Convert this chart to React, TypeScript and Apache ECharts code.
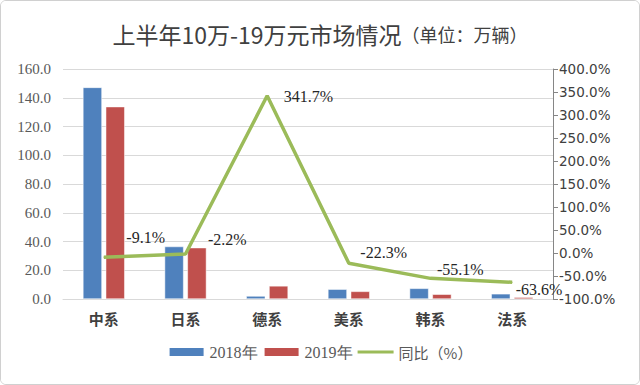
import React, { useEffect, useRef } from "react";
import * as echarts from "echarts";

const categories = ["中系", "日系", "德系", "美系", "韩系", "法系"];
const sales2018 = [147.2, 36.5, 2.06, 6.8, 7.4, 3.6];
const sales2019 = [133.8, 35.7, 9.1, 5.3, 3.3, 1.3];
const yoy = [-9.1, -2.2, 341.7, -22.3, -55.1, -63.6];
const labelOffsets: number[][] = [[22, -20], [22, -15], [16, 1], [11, -11], [6, -9], [3, 7]];

export default function App() {
  const ref = useRef<HTMLDivElement>(null);
  useEffect(() => {
    const chart = echarts.init(ref.current!, null, { renderer: "svg" });
    const serif = "Liberation Serif";
    chart.setOption({
      animation: false,
      backgroundColor: "#ffffff",
      title: {
        text: "{a|上半年10万-19万元市场情况}{b|（单位：万辆）}",
        left: "center",
        top: 16,
        textStyle: {
          fontWeight: "normal",
          rich: {
            a: { fontSize: 23, fontWeight: "normal", color: "#404040", fontFamily: "Noto Sans CJK SC" },
            b: { fontSize: 18, fontWeight: "normal", color: "#404040", fontFamily: "Noto Sans CJK SC" },
          },
        },
      },
      legend: {
        bottom: 19,
        left: "center",
        itemWidth: 36,
        itemHeight: 10,
        itemGap: 5,
        textStyle: { fontFamily: serif, fontSize: 16, color: "#595959" },
        data: [
          { name: "2018年", icon: "rect" },
          { name: "2019年", icon: "rect" },
          { name: "同比（%）", icon: "path://M0,0 L36,0 L36,3 L0,3 Z", itemStyle: { color: "#9BBB59" }, textStyle: { fontFamily: "Noto Sans CJK SC", fontSize: 15 } },
        ],
      },
      grid: { left: 62, right: 86, top: 68, bottom: 85 },
      xAxis: {
        type: "category",
        data: categories,
        axisLine: { show: true, lineStyle: { color: "#d9d9d9" } },
        axisTick: { show: false },
        axisLabel: {
          fontSize: 15,
          fontWeight: "bold",
          color: "#404040",
          fontFamily: "Noto Sans CJK SC",
          margin: 12,
        },
      },
      yAxis: [
        {
          type: "value",
          min: 0,
          max: 160,
          interval: 20,
          axisLine: { show: false },
          axisTick: { show: false },
          splitLine: { lineStyle: { color: "#d9d9d9" } },
          axisLabel: {
            formatter: (v: number) => v.toFixed(1),
            fontFamily: serif,
            fontSize: 15,
            color: "#595959",
            margin: 12,
          },
        },
        {
          type: "value",
          min: -100,
          max: 400,
          interval: 50,
          position: "right",
          axisLine: { show: true, lineStyle: { color: "#868686" } },
          axisTick: { show: true, length: 5, lineStyle: { color: "#868686" } },
          splitLine: { show: false },
          axisLabel: {
            formatter: (v: number) => v.toFixed(1) + "%",
            fontFamily: "DejaVu Sans",
            fontSize: 13.5,
            color: "#404040",
            margin: 6,
          },
        },
      ],
      series: [
        {
          name: "2018年",
          type: "bar",
          data: sales2018,
          barWidth: 19,
          barGap: "20%",
          itemStyle: { color: "#4F81BD", borderColor: "#ffffff", borderWidth: 0.5 },
        },
        {
          name: "2019年",
          type: "bar",
          data: sales2019,
          barWidth: 19,
          barGap: "20%",
          itemStyle: { color: "#C0504D", borderColor: "#ffffff", borderWidth: 0.5 },
        },
        {
          name: "同比（%）",
          type: "line",
          yAxisIndex: 1,
          symbol: "circle",
          symbolSize: 1,
          lineStyle: { color: "#9BBB59", width: 3.5 },
          itemStyle: { color: "#9BBB59" },
          data: yoy.map((v, i) => ({
            value: v,
            label: { offset: labelOffsets[i] },
          })),
          label: {
            show: true,
            position: "right",
            distance: 0,
            formatter: (p: any) => p.value.toFixed(1) + "%",
            fontFamily: serif,
            fontSize: 16,
            color: "#262626",
          },
        },
      ],
    });
    return () => chart.dispose();
  }, []);
  return (
    <div
      style={{
        position: "absolute",
        left: 0,
        top: 0,
        width: 640,
        height: 385,
        boxSizing: "border-box",
        border: "1px solid #d0d0d0",
        borderRadius: 6,
        overflow: "hidden",
        background: "#fff",
      }}
    >
      <div ref={ref} style={{ width: 638, height: 383 }} />
    </div>
  );
}
